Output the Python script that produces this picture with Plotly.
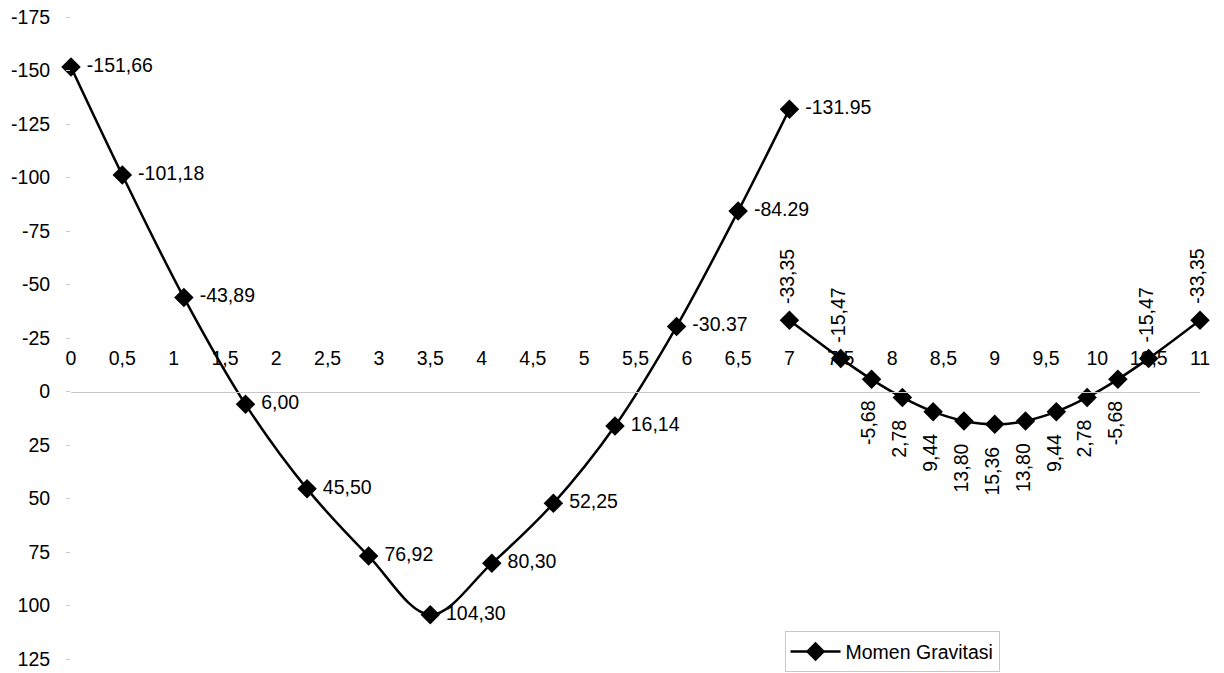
import plotly.graph_objects as go

# ---- data ----
x1 = [0, 0.5, 1.1, 1.7, 2.3, 2.9, 3.5, 4.1, 4.7, 5.3, 5.9, 6.5, 7.0]
y1 = [-151.66, -101.18, -43.89, 6.00, 45.50, 76.92, 104.30, 80.30, 52.25, 16.14, -30.37, -84.29, -131.95]
labels1 = ["-151,66", "-101,18", "-43,89", "6,00", "45,50", "76,92", "104,30",
           "80,30", "52,25", "16,14", "-30.37", "-84.29", "-131.95"]

x2 = [7, 7.5, 7.8, 8.1, 8.4, 8.7, 9.0, 9.3, 9.6, 9.9, 10.2, 10.5, 11]
y2 = [-33.35, -15.47, -5.68, 2.78, 9.44, 13.80, 15.36, 13.80, 9.44, 2.78, -5.68, -15.47, -33.35]
labels2 = ["-33,35", "-15,47", "-5,68", "2,78", "9,44", "13,80", "15,36",
           "13,80", "9,44", "2,78", "-5,68", "-15,47", "-33,35"]

xtickvals = [0, 0.5, 1, 1.5, 2, 2.5, 3, 3.5, 4, 4.5, 5, 5.5, 6, 6.5, 7, 7.5, 8, 8.5, 9, 9.5, 10, 10.5, 11]
xticktext = ["0", "0,5", "1", "1,5", "2", "2,5", "3", "3,5", "4", "4,5", "5", "5,5", "6", "6,5",
             "7", "7,5", "8", "8,5", "9", "9,5", "10", "10,5", "11"]
ytickvals = [-175, -150, -125, -100, -75, -50, -25, 0, 25, 50, 75, 100, 125]
yticktext = ["-175", "-150", "-125", "-100", "-75", "-50", "-25", "0", "25", "50", "75", "100", "125"]

FONT = "Liberation Sans, Arial, sans-serif"
FS = 19.5

fig = go.Figure()
fig.add_trace(go.Scatter(
    x=x1, y=y1, mode="lines+markers+text", name="Momen Gravitasi",
    legendgroup="g", line=dict(color="black", width=2.5, shape="spline", smoothing=1),
    marker=dict(symbol="diamond", size=15, color="black"),
    text=labels1, texttemplate=" %{text}", textposition="middle right",
    textfont=dict(family=FONT, size=FS, color="black"), cliponaxis=False,
    hoverinfo="skip",
))
fig.add_trace(go.Scatter(
    x=x2, y=y2, mode="lines+markers", name="Momen Gravitasi", showlegend=False,
    legendgroup="g", line=dict(color="black", width=2.5, shape="spline", smoothing=1),
    marker=dict(symbol="diamond", size=15, color="black"), cliponaxis=False,
    hoverinfo="skip",
))

for xv, yv, lab in zip(x2, y2, labels2):
    above = yv <= -10
    fig.add_annotation(
        x=xv, y=yv, text=lab, showarrow=False, textangle=-90,
        xanchor="center", yanchor="bottom" if above else "top",
        yshift=14 if above else -20, xshift=-3,
        font=dict(family=FONT, size=FS, color="black"),
    )

zero_pos = 125 / 300.0

fig.update_layout(
    width=1224, height=673,
    margin=dict(l=71, r=24, t=17, b=14, autoexpand=False),
    paper_bgcolor="white", plot_bgcolor="white",
    font=dict(family=FONT, size=FS, color="black"),
    showlegend=True,
    legend=dict(x=0.632, y=0.043, xanchor="left", yanchor="top",
                bordercolor="#c8c8c8", borderwidth=1, bgcolor="white",
                font=dict(family=FONT, size=FS, color="black"),
                itemwidth=50),
    xaxis=dict(range=[0, 11], tickvals=xtickvals, ticktext=xticktext,
               anchor="free", position=zero_pos, side="top", automargin=False,
               showline=True, linecolor="#c8c8c8", linewidth=1,
               showgrid=False, zeroline=False, ticks="",
               ticklabelstandoff=19, tickangle=0,
               tickfont=dict(family=FONT, size=FS, color="black")),
    yaxis=dict(range=[125, -175], tickvals=ytickvals, ticktext=yticktext,
               showgrid=False, automargin=False,
               zeroline=False, showline=False, ticks="outside", ticklen=4,
               tickcolor="#cccccc", ticklabelstandoff=12,
               tickfont=dict(family=FONT, size=FS, color="black")),
)

fig.write_html(
    "out.html",
    config={"displayModeBar": False},
    post_script="document.body.style.margin='0';document.body.style.overflow='hidden';",
)
